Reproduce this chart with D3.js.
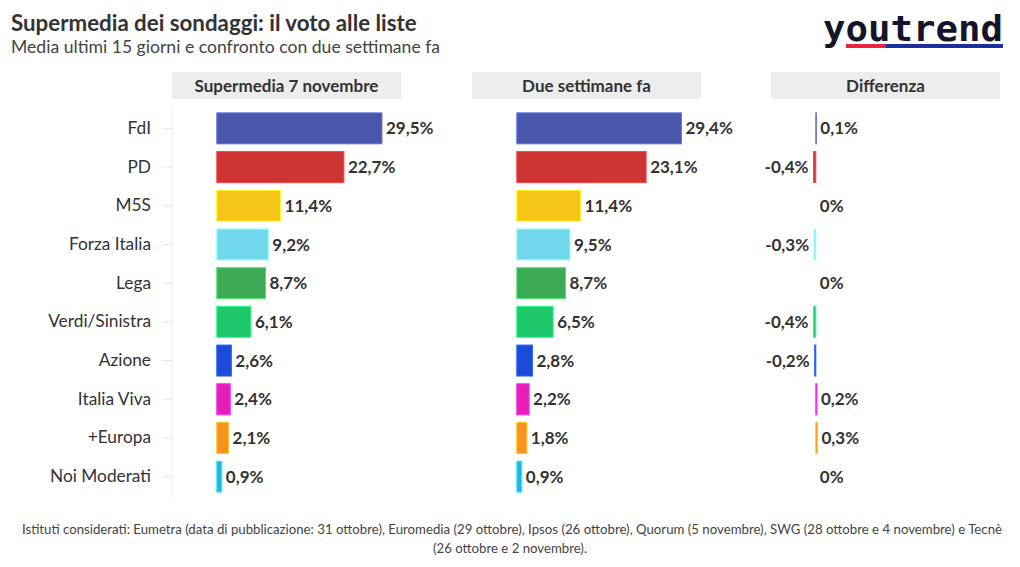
<!DOCTYPE html>
<html><head><meta charset="utf-8">
<script src="https://cdn.jsdelivr.net/npm/d3@7"></script>
<style>body{margin:0;background:#fff}svg{display:block}</style>
</head><body>
<svg id="c" width="1020" height="567"></svg>
<script>
const categories = ["FdI","PD","M5S","Forza Italia","Lega","Verdi/Sinistra","Azione","Italia Viva","+Europa","Noi Moderati"];
const current = [29.5,22.7,11.4,9.2,8.7,6.1,2.6,2.4,2.1,0.9];
const previous = [29.4,23.1,11.4,9.5,8.7,6.5,2.8,2.2,1.8,0.9];
const difference = [0.1,-0.4,0,-0.3,0,-0.4,-0.2,0.2,0.3,0];
const colors = ["#4a56ab","#cc3333","#f5c518","#72d8ec","#3dab55","#1ec86a","#1b4bd8","#e51fb5","#f7941d","#28b4d8"];
const panelTitles = ["Supermedia 7 novembre","Due settimane fa","Differenza"];
const panelValues = [current, previous, difference];

const FONT = "Lato, 'Noto Sans', sans-serif";
const svg = d3.select("#c").style("font-family", FONT);
const fmt = v => (v === 0 ? "0" : d3.format(".1f")(v).replace(".", ",").replace("−","-")) + "%";

svg.append("text").attr("x",11).attr("y",31).attr("font-size",22.3).attr("font-weight",700)
  .attr("fill","#333").text("Supermedia dei sondaggi: il voto alle liste");
svg.append("text").attr("x",11).attr("y",53).attr("font-size",17.6).attr("fill","#444")
  .text("Media ultimi 15 giorni e confronto con due settimane fa");

// logo
svg.append("text").attr("x",823).attr("y",41).attr("font-family","'DejaVu Sans Mono', monospace")
  .attr("font-weight",700).attr("font-size",35).attr("fill","#14142b")
  .attr("textLength",180).attr("lengthAdjust","spacingAndGlyphs").text("youtrend");
svg.append("rect").attr("x",846).attr("y",44).attr("width",40).attr("height",4).attr("fill","#e8253f");
svg.append("rect").attr("x",886).attr("y",44).attr("width",117).attr("height",4).attr("fill","#1c2f9c");

const y = d3.scaleBand().domain(categories).range([109,496]).paddingInner(0.2).paddingOuter(0.1);

// category axis
const axisG = svg.append("g").attr("transform","translate(172,0)")
  .call(d3.axisLeft(y).tickSize(9).tickPadding(12));
axisG.select(".domain").attr("stroke","#ececec").attr("d","M0,105V497");
axisG.selectAll(".tick line").attr("stroke","#e6e6e6");
axisG.selectAll(".tick text").attr("font-size",17.3).attr("fill","#333").attr("font-family",FONT);

const panelLeft = [172, 472, 771];
const panelW = 229;
panelLeft.forEach((px, i) => {
  const x = d3.scaleLinear().domain([-8, 32.9]).range([px, px + panelW]);
  const g = svg.append("g");
  g.append("rect").attr("x",px).attr("y",72).attr("width",panelW).attr("height",27).attr("fill","#ededed");
  g.append("text").attr("x",px+panelW/2).attr("y",91.5).attr("text-anchor","middle")
    .attr("font-size",17).attr("font-weight",700).attr("fill","#333").text(panelTitles[i]);
  const vals = panelValues[i];
  const data = categories.map((c,k)=>({c, v: vals[k], col: colors[k]}));
  g.selectAll("rect.bar").data(data).join("rect").attr("class","bar")
    .attr("x", d => x(Math.min(0,d.v))).attr("y", d => y(d.c))
    .attr("width", d => Math.abs(x(d.v)-x(0))).attr("height", y.bandwidth())
    .attr("fill", d => d.col).attr("stroke", d => d.v === 0 ? "none" : d3.color(d.col).brighter(0.8))
    .attr("stroke-width", 1);
  g.selectAll("text.val").data(data).join("text").attr("class","val")
    .attr("x", d => d.v < 0 ? x(d.v) - 5 : x(d.v) + 4)
    .attr("y", d => y(d.c) + y.bandwidth()/2).attr("dy","0.36em")
    .attr("text-anchor", d => d.v < 0 ? "end" : "start")
    .attr("font-size",17).attr("font-weight",700).attr("fill","#333")
    .text(d => fmt(d.v));
});

// footer
svg.append("text").attr("x",512).attr("y",534).attr("text-anchor","middle").attr("font-size",12.5).attr("fill","#444")
  .attr("textLength",980).attr("lengthAdjust","spacingAndGlyphs")
  .text("Istituti considerati: Eumetra (data di pubblicazione: 31 ottobre), Euromedia (29 ottobre), Ipsos (26 ottobre), Quorum (5 novembre), SWG (28 ottobre e 4 novembre) e Tecnè");
svg.append("text").attr("x",510).attr("y",553).attr("text-anchor","middle").attr("font-size",12.5).attr("fill","#444")
  .attr("textLength",154).attr("lengthAdjust","spacingAndGlyphs")
  .text("(26 ottobre e 2 novembre).");
</script>
</body></html>
